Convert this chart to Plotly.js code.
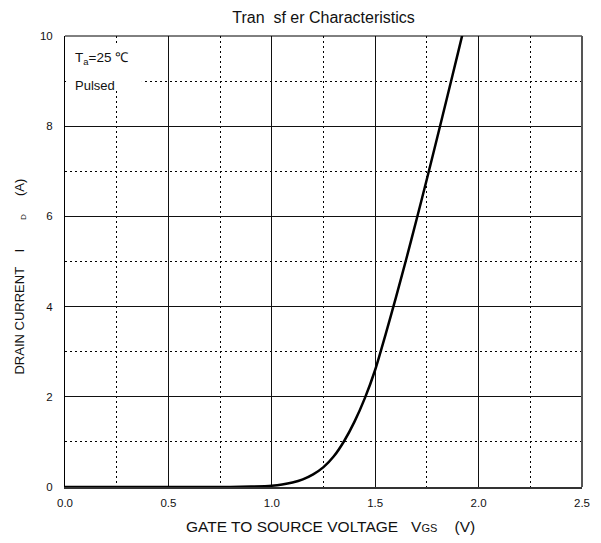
<!DOCTYPE html>
<html>
<head>
<meta charset="utf-8">
<script src="https://cdn.plot.ly/plotly-3.0.1.min.js"></script>
<style>html,body{margin:0;padding:0;background:#fff;}#chart{width:601px;height:543px;}</style>
</head>
<body>
<div id="chart"></div>
<script>
// Gate-source voltage (V) and drain current (A)
var vgs = [0.0, 0.5, 0.8, 0.9, 1.0, 1.05, 1.1, 1.15, 1.2, 1.25, 1.3, 1.35, 1.4, 1.45, 1.5, 1.55, 1.6, 1.65, 1.7, 1.75, 1.8, 1.85, 1.9, 1.93];
var idA = [0.0, 0.0, 0.002, 0.01, 0.03, 0.055, 0.1, 0.17, 0.28, 0.44, 0.68, 1.02, 1.45, 1.97, 2.6, 3.38, 4.2, 5.05, 5.93, 6.83, 7.75, 8.68, 9.62, 10.19];
var xTickVals = [0, 0.5, 1.0, 1.5, 2.0, 2.5];
var xTickText = ["0.0", "0.5", "1.0", "1.5", "2.0", "2.5"];
var yTickVals = [0, 2, 4, 6, 8, 10];
var yTickText = ["0", "2", "4", "6", "8", "10"];

var S = "\u00A0";
function sp(n) { var s = ""; for (var i = 0; i < n; i++) s += S; return s; }
var font = "Liberation Sans, Arial, sans-serif";

var trace = {
  x: vgs, y: idA, type: "scatter", mode: "lines",
  line: {color: "#000", width: 2.5, shape: "spline", smoothing: 0.5},
  hoverinfo: "skip"
};

var layout = {
  width: 601, height: 543,
  margin: {l: 65, r: 19, t: 36, b: 56},
  paper_bgcolor: "#fff", plot_bgcolor: "#fff",
  showlegend: false,
  font: {family: font, color: "#000", size: 11},
  title: {text: "Tran" + sp(2) + "sf er Characteristics", font: {family: font, size: 16, color: "#111"},
          xref: "paper", x: 0.5, xanchor: "center", y: 0.968, yanchor: "middle"},
  xaxis: {
    range: [0, 2.5], tickvals: xTickVals, ticktext: xTickText,
    showgrid: true, gridcolor: "#111", gridwidth: 1,
    minor: {dtick: 0.25, tick0: 0, showgrid: true, gridcolor: "#000", gridwidth: 1, griddash: "1.5px,3.5px"},
    zeroline: false, showline: true, linecolor: "#333", linewidth: 2,
    ticks: "", ticklabelstandoff: 4, tickfont: {family: font, size: 11.5, color: "#111"},
    fixedrange: true
  },
  yaxis: {
    range: [0, 10], tickvals: yTickVals, ticktext: yTickText,
    showgrid: true, gridcolor: "#111", gridwidth: 1,
    minor: {dtick: 1, tick0: 0, showgrid: true, gridcolor: "#000", gridwidth: 1, griddash: "1.5px,3.5px"},
    zeroline: false, showline: true, linecolor: "#000", linewidth: 1,
    ticks: "", ticklabelstandoff: 9, tickfont: {family: font, size: 11.5, color: "#111"},
    fixedrange: true
  },
  shapes: [
    {type: "rect", xref: "x", yref: "y", x0: 0.005, x1: 0.372, y0: 8.78, y1: 9.8,
     fillcolor: "#fff", line: {width: 0}, layer: "between"},
    {type: "line", xref: "paper", yref: "paper", x0: 0, x1: 1, y0: 1, y1: 1, line: {color: "#000", width: 1}},
    {type: "line", xref: "paper", yref: "paper", x0: 1, x1: 1, y0: 0, y1: 1, line: {color: "#555", width: 2}}
  ],
  annotations: [
    {xref: "paper", yref: "paper", x: 0.0155, y: 0.95, xanchor: "left", yanchor: "middle", showarrow: false,
     text: "T<sub>a</sub>=25" + S + "\u2103", font: {family: font, size: 13.5, color: "#111"}},
    {xref: "paper", yref: "paper", x: 0.0155, y: 0.89, xanchor: "left", yanchor: "middle", showarrow: false,
     text: "Pulsed", font: {family: font, size: 13, color: "#111"}},
    {xref: "paper", yref: "paper", x: 0.5126, y: -0.0865, xanchor: "center", yanchor: "middle", showarrow: false,
     text: "GATE TO SOURCE VOLTAGE" + sp(3) + "V<span style='font-size:11px'>GS</span>" + sp(4) + "(V)",
     font: {family: font, size: 15.5, color: "#111"}},
    {xref: "paper", yref: "paper", x: -0.087, y: 0.4667, xanchor: "center", yanchor: "middle", showarrow: false,
     textangle: -90,
     text: "DRAIN CURRENT" + sp(4) + "I" + sp(8) + "<sub><span style='font-size:8px'>D</span></sub>" + sp(5) + "(A)",
     font: {family: font, size: 13, color: "#111"}}
  ]
};

Plotly.newPlot("chart", [trace], layout, {displayModeBar: false, staticPlot: true});
</script>
</body>
</html>
